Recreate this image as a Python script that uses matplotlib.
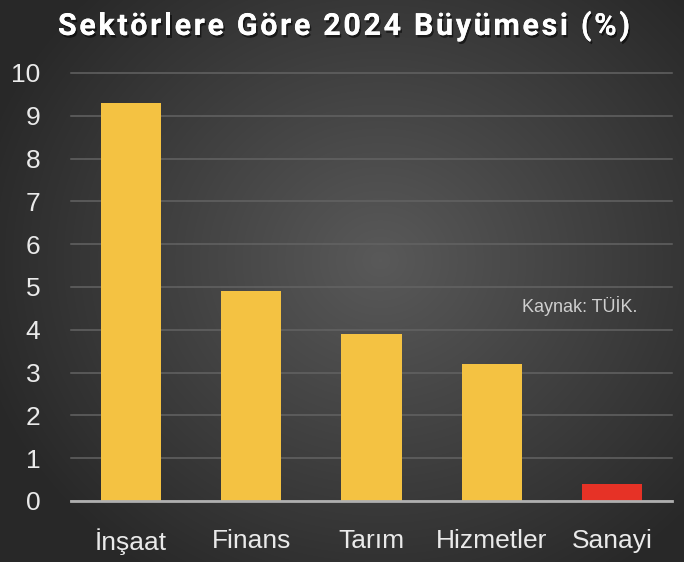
import numpy as np
import matplotlib
matplotlib.use("Agg")
import matplotlib.pyplot as plt
import matplotlib.patheffects as pe
from matplotlib.colors import LinearSegmentedColormap
from matplotlib.font_manager import FontProperties, findfont, get_font

categories = ["İnşaat", "Finans", "Tarım", "Hizmetler", "Sanayi"]
values = [9.3, 4.9, 3.9, 3.2, 0.4]
bar_colors = ["#F4C242", "#F4C242", "#F4C242", "#F4C242", "#E63226"]
yticks = [0, 1, 2, 3, 4, 5, 6, 7, 8, 9, 10]
title = "Sektörlere Göre 2024 Büyümesi (%)"
source = "Kaynak: TÜİK."

narrow = ["Liberation Sans Narrow", "Liberation Sans", "DejaVu Sans"]
DPI = 100

fig = plt.figure(figsize=(6.84, 5.62), dpi=DPI)

# radial gradient background
bg = fig.add_axes([0, 0, 1, 1])
h, w = 562, 684
yy, xx = np.mgrid[0:h, 0:w]
cx, cy = 380, 260
r = np.sqrt(((xx - cx) / 420.0) ** 2 + ((yy - cy) / 380.0) ** 2)
r = np.clip(r, 0, 1)
cmap = LinearSegmentedColormap.from_list("bg", ["#595959", "#282828"])
bg.imshow(r, cmap=cmap, aspect="auto", extent=[0, 1, 0, 1], origin="upper", vmin=0, vmax=1)
bg.axis("off")

ax = fig.add_axes([71 / 684, 1 - 501 / 562, (672 - 71) / 684, (501 - 73) / 562])
ax.patch.set_alpha(0)
x = np.arange(len(categories))
ax.bar(x, values, width=0.5, color=bar_colors, zorder=3)
ax.set_xlim(-0.5, len(categories) - 0.5)
ax.set_ylim(0, 10)
ax.set_yticks(yticks)
ax.set_yticklabels([str(t) for t in yticks], family=narrow, fontsize=19, color="#EAEAEA")
ax.set_xticks(x)
ax.set_xticklabels(categories, family=narrow, fontsize=19, color="#EAEAEA")
ax.tick_params(axis="both", length=0)
ax.tick_params(axis="y", pad=22)
ax.tick_params(axis="x", pad=20)
for s in ["top", "right", "left"]:
    ax.spines[s].set_visible(False)
ax.spines["bottom"].set_color("#AFAFAF")
ax.spines["bottom"].set_linewidth(2)
ax.spines["bottom"].set_zorder(4)
ax.yaxis.grid(True, color="#636363", linewidth=1.1, zorder=0, clip_on=False)
ax.set_axisbelow(True)

ax.text((637 - 71) / 601, (501 - 306) / 428, source, transform=ax.transAxes, ha="right", va="center",
        family=narrow, fontsize=13, color="#CFCFCF")

# Title with letter spacing
tsize = 22
tprop = FontProperties(family=["Roboto", "DejaVu Sans"], weight="bold", size=tsize)
font = get_font(findfont(tprop))
font.set_size(tsize, 72)
advs = []
for ch in title:
    g = font.load_char(ord(ch))
    advs.append(g.linearHoriAdvance / 65536.0 * DPI / 72.0)
spacing = 2.6
total = sum(advs) + spacing * (len(title) - 1)
xpos = 344 - total / 2.0
ycen = 1 - 26 / 562
shadow = [pe.withSimplePatchShadow(offset=(1.2, -1.8), shadow_rgbFace="black", alpha=0.55), pe.Normal()]
for ch, adv in zip(title, advs):
    if ch != " ":
        fig.text(xpos / 684, ycen, ch, ha="left", va="center", fontproperties=tprop,
                 color="white", path_effects=shadow)
    xpos += adv + spacing

fig.savefig("out.png", dpi=DPI)
